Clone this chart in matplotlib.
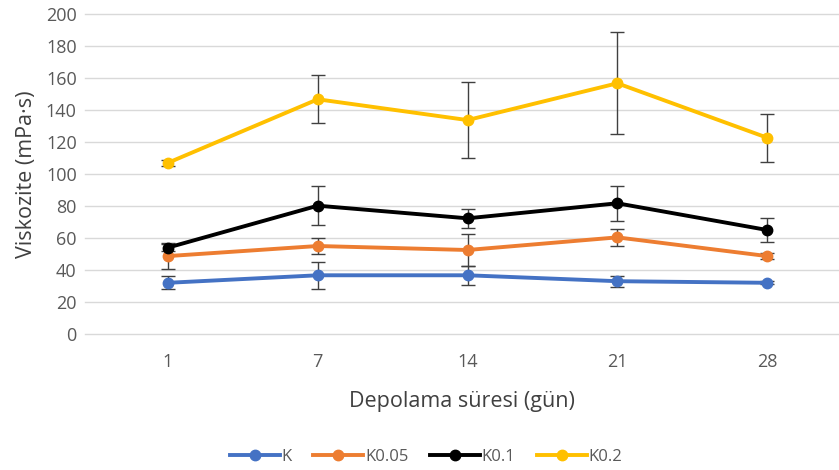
import matplotlib.pyplot as plt
from matplotlib.lines import Line2D

plt.rcParams['font.family'] = ['Open Sans', 'DejaVu Sans']

days = ['1', '7', '14', '21', '28']
series = ['K', 'K0.05', 'K0.1', 'K0.2']
colors = ['#4472C4', '#ED7D31', '#000000', '#FFC000']

k_mean = [32, 36.7, 36.7, 33, 32]
k_err = [4, 8.5, 6, 3.5, 1]
k005_mean = [48.7, 55, 52.5, 60.4, 48.7]
k005_err = [8, 5, 10, 5.3, 2]
k01_mean = [54, 80.2, 72.3, 81.7, 65]
k01_err = [2, 12, 6, 11, 7.5]
k02_mean = [107, 146.7, 133.7, 156.7, 122.7]
k02_err = [2, 15, 24, 32, 15]

means = [k_mean, k005_mean, k01_mean, k02_mean]
errs = [k_err, k005_err, k01_err, k02_err]

fig = plt.figure(figsize=(8.39, 4.70), dpi=100)
ax = fig.add_axes([85 / 839, 1 - 334 / 470, 754 / 839, 320 / 470])

x = list(range(len(days)))
handles = []
for name, m, e, col in zip(series, means, errs, colors):
    ax.errorbar(x, m, yerr=e, color=col, lw=2.8, marker='o', ms=7.5,
                ecolor='#404040', elinewidth=1, capsize=5, capthick=1,
                zorder=3)
    handles.append(Line2D([], [], color=col, lw=2.8, marker='o', ms=7.5, label=name))

ax.set_ylim(0, 200)
ax.set_yticks(range(0, 201, 20))
ax.set_xlim(-0.554, 4.48)
ax.set_xticks(x)
ax.set_xticklabels(days)
ax.grid(axis='y', color='#D9D9D9', lw=1)
for gl in ax.get_ygridlines():
    gl.set_clip_on(False)
ax.set_axisbelow(True)
for s in ax.spines.values():
    s.set_visible(False)
ax.tick_params(length=0, labelsize=13, colors='#595959', pad=6)
ax.tick_params(axis='x', pad=14)

ax.set_xlabel('Depolama süresi (gün)', fontsize=15.5, color='#404040', labelpad=14)
ax.set_ylabel('Viskozite (mPa·s)', fontsize=15.5, color='#404040', labelpad=6)

leg = ax.legend(handles=handles, loc='center', bbox_to_anchor=(426 / 839, 1 - 457 / 470),
                bbox_transform=fig.transFigure, ncol=4, frameon=False,
                fontsize=12, handlelength=3.0, columnspacing=1.3,
                handletextpad=0.1)
for t in leg.get_texts():
    t.set_color('#595959')

fig.savefig('out.png', dpi=100)
